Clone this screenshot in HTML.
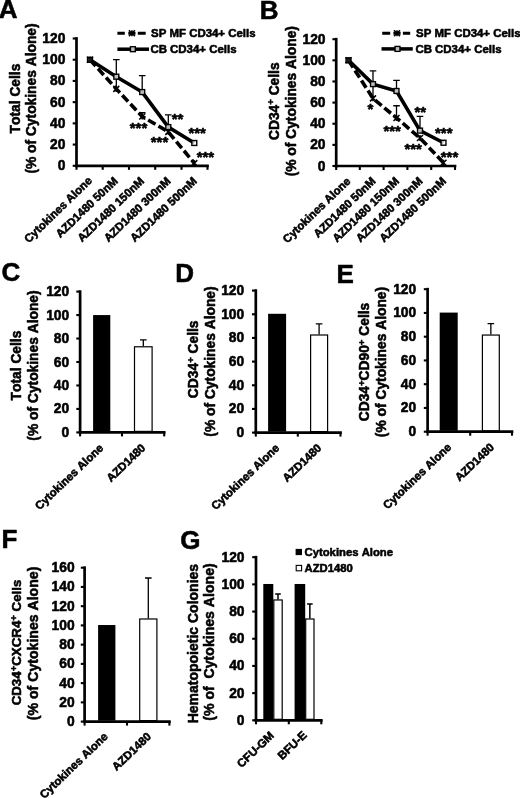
<!DOCTYPE html>
<html lang="en"><head><meta charset="utf-8"><title>Figure</title>
<style>
html,body{margin:0;padding:0;background:#fff;}
body{width:520px;height:798px;overflow:hidden;}
svg{display:block;}
svg text{font-family:"Liberation Sans", sans-serif;font-weight:bold;font-kerning:none;fill:#000;stroke:#000;stroke-width:0.55px;stroke-linejoin:round;}
</style></head><body>
<svg width="520" height="798" viewBox="0 0 520 798">
<rect width="520" height="798" fill="#fff"/>
<g font-size="26">
<text x="-1.2" y="17.8">A</text>
<text x="259.8" y="18.7">B</text>
<text x="1.5" y="281.2">C</text>
<text x="175.2" y="282.3">D</text>
<text x="336.6" y="282.5">E</text>
<text x="1.4" y="547.7">F</text>
<text x="180.2" y="548.6">G</text>
</g>
<line x1="76.5" y1="37.15" x2="76.5" y2="167.15" stroke="#000" stroke-width="2.7"/>
<line x1="75.15" y1="165.8" x2="208.85" y2="165.8" stroke="#000" stroke-width="2.7"/>
<line x1="72.7" y1="165.8" x2="76.5" y2="165.8" stroke="#000" stroke-width="2.1"/>
<text x="65.4" y="170.3" font-size="13.8" text-anchor="end">0</text>
<line x1="72.7" y1="144.58" x2="76.5" y2="144.58" stroke="#000" stroke-width="2.1"/>
<text x="65.4" y="149.08" font-size="13.8" text-anchor="end">20</text>
<line x1="72.7" y1="123.37" x2="76.5" y2="123.37" stroke="#000" stroke-width="2.1"/>
<text x="65.4" y="127.87" font-size="13.8" text-anchor="end">40</text>
<line x1="72.7" y1="102.15" x2="76.5" y2="102.15" stroke="#000" stroke-width="2.1"/>
<text x="65.4" y="106.65" font-size="13.8" text-anchor="end">60</text>
<line x1="72.7" y1="80.93" x2="76.5" y2="80.93" stroke="#000" stroke-width="2.1"/>
<text x="65.4" y="85.43" font-size="13.8" text-anchor="end">80</text>
<line x1="72.7" y1="59.72" x2="76.5" y2="59.72" stroke="#000" stroke-width="2.1"/>
<text x="65.4" y="64.22" font-size="13.8" text-anchor="end">100</text>
<line x1="72.7" y1="38.5" x2="76.5" y2="38.5" stroke="#000" stroke-width="2.1"/>
<text x="65.4" y="43.0" font-size="13.8" text-anchor="end">120</text>
<line x1="76.5" y1="165.8" x2="76.5" y2="169.8" stroke="#000" stroke-width="2.1"/>
<line x1="102.7" y1="165.8" x2="102.7" y2="169.8" stroke="#000" stroke-width="2.1"/>
<line x1="129" y1="165.8" x2="129" y2="169.8" stroke="#000" stroke-width="2.1"/>
<line x1="155.2" y1="165.8" x2="155.2" y2="169.8" stroke="#000" stroke-width="2.1"/>
<line x1="181.5" y1="165.8" x2="181.5" y2="169.8" stroke="#000" stroke-width="2.1"/>
<line x1="207.5" y1="165.8" x2="207.5" y2="169.8" stroke="#000" stroke-width="2.1"/>
<text x="19.5" y="98.5" font-size="13.8" text-anchor="middle" transform="rotate(-90 19.5 98.5)">Total Cells</text>
<text x="35.8" y="98.5" font-size="13.8" text-anchor="middle" transform="rotate(-90 35.8 98.5)">(% of Cytokines Alone)</text>
<path d="M116.3 59.72L116.3 91.54M113.0 59.72L119.6 59.72" stroke="#000" stroke-width="1.3" fill="none"/>
<path d="M142.2 75.63L142.2 92.6M138.89999999999998 75.63L145.5 75.63" stroke="#000" stroke-width="1.3" fill="none"/>
<path d="M168.3 114.88L168.3 127.61M165.0 114.88L171.60000000000002 114.88" stroke="#000" stroke-width="1.3" fill="none"/>
<path d="M142.2 112.76L142.2 117.0M138.89999999999998 112.76L145.5 112.76" stroke="#000" stroke-width="1.3" fill="none"/>
<polyline points="90,59.72 116.3,88.89 142.2,116.47 168.3,131.85 194.3,163.15" fill="none" stroke="#000" stroke-width="3.6" stroke-dasharray="8.5 3.5"/>
<polyline points="90,59.72 116.3,76.69 142.2,92.07 168.3,127.08 194.3,142.99" fill="none" stroke="#000" stroke-width="3.6"/>
<path d="M87.0 56.72L93.0 62.72M87.0 62.72L93.0 56.72M90 56.72L90 62.72" stroke="#000" stroke-width="1.5" fill="none"/>
<path d="M113.3 85.89L119.3 91.89M113.3 91.89L119.3 85.89M116.3 85.89L116.3 91.89" stroke="#000" stroke-width="1.5" fill="none"/>
<path d="M139.2 113.47L145.2 119.47M139.2 119.47L145.2 113.47M142.2 113.47L142.2 119.47" stroke="#000" stroke-width="1.5" fill="none"/>
<path d="M165.3 128.85L171.3 134.85M165.3 134.85L171.3 128.85M168.3 128.85L168.3 134.85" stroke="#000" stroke-width="1.5" fill="none"/>
<path d="M191.3 160.15L197.3 166.15M191.3 166.15L197.3 160.15M194.3 160.15L194.3 166.15" stroke="#000" stroke-width="1.5" fill="none"/>
<rect x="87.55" y="57.269999999999996" width="4.9" height="4.9" fill="#222" fill-opacity="0.75" stroke="#000" stroke-width="1.4"/>
<rect x="113.85" y="74.24" width="4.9" height="4.9" fill="#fff" fill-opacity="0.75" stroke="#000" stroke-width="1.4"/>
<rect x="139.75" y="89.61999999999999" width="4.9" height="4.9" fill="#fff" fill-opacity="0.75" stroke="#000" stroke-width="1.4"/>
<rect x="165.85000000000002" y="124.63" width="4.9" height="4.9" fill="#fff" fill-opacity="0.75" stroke="#000" stroke-width="1.4"/>
<rect x="191.85000000000002" y="140.54000000000002" width="4.9" height="4.9" fill="#fff" fill-opacity="0.75" stroke="#000" stroke-width="1.4"/>
<path d="M117.4 33.3H124.8M128.3 33.3H135.5M137.8 33.3H145.7" stroke="#000" stroke-width="3" fill="none"/>
<path d="M128.9 30.299999999999997L134.9 36.3M128.9 36.3L134.9 30.299999999999997M131.9 30.299999999999997L131.9 36.3" stroke="#000" stroke-width="1.5" fill="none"/>
<line x1="117.4" y1="49.2" x2="149" y2="49.2" stroke="#000" stroke-width="3.5"/>
<rect x="130.45000000000002" y="46.75" width="4.9" height="4.9" fill="#fff" fill-opacity="0.75" stroke="#000" stroke-width="1.4"/>
<text x="151" y="37.2" font-size="11.45" text-anchor="start">SP MF CD34+ Cells</text>
<text x="150.4" y="53.4" font-size="11.45" text-anchor="start">CB CD34+ Cells</text>
<text x="138.5" y="132.75" font-size="15" text-anchor="middle">***</text>
<text x="177.5" y="124.05" font-size="15" text-anchor="middle">**</text>
<text x="159.5" y="147.05" font-size="15" text-anchor="middle">***</text>
<text x="197.2" y="137.75" font-size="15" text-anchor="middle">***</text>
<text x="205.4" y="162.25" font-size="15" text-anchor="middle">***</text>
<text x="92.9" y="181.4" font-size="11.4" text-anchor="end" transform="rotate(-44 92.9 181.4)">Cytokines Alone</text>
<text x="118.5" y="181.9" font-size="11.4" text-anchor="end" transform="rotate(-44 118.5 181.9)">AZD1480 50nM</text>
<text x="144.79999999999998" y="181.9" font-size="11.4" text-anchor="end" transform="rotate(-44 144.79999999999998 181.9)">AZD1480 150nM</text>
<text x="171.3" y="181.9" font-size="11.4" text-anchor="end" transform="rotate(-44 171.3 181.9)">AZD1480 300nM</text>
<text x="197.60000000000002" y="181.9" font-size="11.4" text-anchor="end" transform="rotate(-44 197.60000000000002 181.9)">AZD1480 500nM</text>
<line x1="336.2" y1="37.85" x2="336.2" y2="167.35" stroke="#000" stroke-width="2.7"/>
<line x1="334.85" y1="166" x2="456.35" y2="166" stroke="#000" stroke-width="2.7"/>
<line x1="332.4" y1="166.0" x2="336.2" y2="166.0" stroke="#000" stroke-width="2.1"/>
<text x="325.5" y="170.5" font-size="13.8" text-anchor="end">0</text>
<line x1="332.4" y1="144.87" x2="336.2" y2="144.87" stroke="#000" stroke-width="2.1"/>
<text x="325.5" y="149.37" font-size="13.8" text-anchor="end">20</text>
<line x1="332.4" y1="123.73" x2="336.2" y2="123.73" stroke="#000" stroke-width="2.1"/>
<text x="325.5" y="128.23" font-size="13.8" text-anchor="end">40</text>
<line x1="332.4" y1="102.6" x2="336.2" y2="102.6" stroke="#000" stroke-width="2.1"/>
<text x="325.5" y="107.1" font-size="13.8" text-anchor="end">60</text>
<line x1="332.4" y1="81.47" x2="336.2" y2="81.47" stroke="#000" stroke-width="2.1"/>
<text x="325.5" y="85.97" font-size="13.8" text-anchor="end">80</text>
<line x1="332.4" y1="60.33" x2="336.2" y2="60.33" stroke="#000" stroke-width="2.1"/>
<text x="325.5" y="64.83" font-size="13.8" text-anchor="end">100</text>
<line x1="332.4" y1="39.2" x2="336.2" y2="39.2" stroke="#000" stroke-width="2.1"/>
<text x="325.5" y="43.7" font-size="13.8" text-anchor="end">120</text>
<line x1="336.2" y1="166" x2="336.2" y2="170" stroke="#000" stroke-width="2.1"/>
<line x1="359.8" y1="166" x2="359.8" y2="170" stroke="#000" stroke-width="2.1"/>
<line x1="383.6" y1="166" x2="383.6" y2="170" stroke="#000" stroke-width="2.1"/>
<line x1="407.4" y1="166" x2="407.4" y2="170" stroke="#000" stroke-width="2.1"/>
<line x1="431.2" y1="166" x2="431.2" y2="170" stroke="#000" stroke-width="2.1"/>
<line x1="455" y1="166" x2="455" y2="170" stroke="#000" stroke-width="2.1"/>
<text x="279" y="101.2" font-size="13.8" text-anchor="middle" transform="rotate(-90 279 101.2)">CD34<tspan font-size="9.5" dy="-4.5">+</tspan><tspan dy="4.5">&#8203;</tspan> Cells</text>
<text x="296" y="101.2" font-size="13.8" text-anchor="middle" transform="rotate(-90 296 101.2)">(% of Cytokines Alone)</text>
<path d="M373 70.9L373 95.2M369.7 70.9L376.3 70.9" stroke="#000" stroke-width="1.3" fill="none"/>
<path d="M396.5 80.41L396.5 90.98M393.2 80.41L399.8 80.41" stroke="#000" stroke-width="1.3" fill="none"/>
<path d="M420 116.34L420 131.13M416.7 116.34L423.3 116.34" stroke="#000" stroke-width="1.3" fill="none"/>
<path d="M396.5 105.77L396.5 118.45M393.2 105.77L399.8 105.77" stroke="#000" stroke-width="1.3" fill="none"/>
<polyline points="348.5,60.33 373,98.37 396.5,117.92 420,138.0 443.5,162.83" fill="none" stroke="#000" stroke-width="3.6" stroke-dasharray="8.5 3.5"/>
<polyline points="348.5,60.33 373,84.11 396.5,90.98 420,130.6 443.5,142.75" fill="none" stroke="#000" stroke-width="3.6"/>
<path d="M345.5 57.33L351.5 63.33M345.5 63.33L351.5 57.33M348.5 57.33L348.5 63.33" stroke="#000" stroke-width="1.5" fill="none"/>
<path d="M370.0 95.37L376.0 101.37M370.0 101.37L376.0 95.37M373 95.37L373 101.37" stroke="#000" stroke-width="1.5" fill="none"/>
<path d="M393.5 114.92L399.5 120.92M393.5 120.92L399.5 114.92M396.5 114.92L396.5 120.92" stroke="#000" stroke-width="1.5" fill="none"/>
<path d="M417.0 135.0L423.0 141.0M417.0 141.0L423.0 135.0M420 135.0L420 141.0" stroke="#000" stroke-width="1.5" fill="none"/>
<path d="M440.5 159.83L446.5 165.83M440.5 165.83L446.5 159.83M443.5 159.83L443.5 165.83" stroke="#000" stroke-width="1.5" fill="none"/>
<rect x="346.05" y="57.879999999999995" width="4.9" height="4.9" fill="#222" fill-opacity="0.75" stroke="#000" stroke-width="1.4"/>
<rect x="370.55" y="81.66" width="4.9" height="4.9" fill="#fff" fill-opacity="0.75" stroke="#000" stroke-width="1.4"/>
<rect x="394.05" y="88.53" width="4.9" height="4.9" fill="#fff" fill-opacity="0.75" stroke="#000" stroke-width="1.4"/>
<rect x="417.55" y="128.15" width="4.9" height="4.9" fill="#fff" fill-opacity="0.75" stroke="#000" stroke-width="1.4"/>
<rect x="441.05" y="140.3" width="4.9" height="4.9" fill="#fff" fill-opacity="0.75" stroke="#000" stroke-width="1.4"/>
<path d="M382.2 33.2H390.2M393.4 33.2H400.6M402.9 33.2H410.2" stroke="#000" stroke-width="3" fill="none"/>
<path d="M394.0 30.200000000000003L400.0 36.2M394.0 36.2L400.0 30.200000000000003M397 30.200000000000003L397 36.2" stroke="#000" stroke-width="1.5" fill="none"/>
<line x1="381.5" y1="48.9" x2="412.8" y2="48.9" stroke="#000" stroke-width="3.5"/>
<rect x="395.05" y="46.449999999999996" width="4.9" height="4.9" fill="#fff" fill-opacity="0.75" stroke="#000" stroke-width="1.4"/>
<text x="416" y="37.1" font-size="11.45" text-anchor="start">SP MF CD34+ Cells</text>
<text x="415.4" y="53.1" font-size="11.45" text-anchor="start">CB CD34+ Cells</text>
<text x="370.4" y="114.15" font-size="15" text-anchor="middle">*</text>
<text x="392.2" y="135.65" font-size="15" text-anchor="middle">***</text>
<text x="420.3" y="116.55" font-size="15" text-anchor="middle">**</text>
<text x="413.2" y="153.75" font-size="15" text-anchor="middle">***</text>
<text x="443.8" y="138.35" font-size="15" text-anchor="middle">***</text>
<text x="449.5" y="161.75" font-size="15" text-anchor="middle">***</text>
<text x="351.2" y="182" font-size="11.35" text-anchor="end" transform="rotate(-44 351.2 182)">Cytokines Alone</text>
<text x="376.3" y="182" font-size="11.4" text-anchor="end" transform="rotate(-44 376.3 182)">AZD1480 50nM</text>
<text x="399.8" y="182" font-size="11.4" text-anchor="end" transform="rotate(-44 399.8 182)">AZD1480 150nM</text>
<text x="423.3" y="182" font-size="11.4" text-anchor="end" transform="rotate(-44 423.3 182)">AZD1480 300nM</text>
<text x="446.8" y="182" font-size="11.4" text-anchor="end" transform="rotate(-44 446.8 182)">AZD1480 500nM</text>
<line x1="80.1" y1="290.25" x2="80.1" y2="433.75" stroke="#000" stroke-width="2.7"/>
<line x1="78.75" y1="432.4" x2="165.55" y2="432.4" stroke="#000" stroke-width="2.7"/>
<line x1="76.3" y1="432.4" x2="80.1" y2="432.4" stroke="#000" stroke-width="2.1"/>
<text x="69.2" y="436.9" font-size="13.8" text-anchor="end">0</text>
<line x1="76.3" y1="408.93" x2="80.1" y2="408.93" stroke="#000" stroke-width="2.1"/>
<text x="69.2" y="413.43" font-size="13.8" text-anchor="end">20</text>
<line x1="76.3" y1="385.47" x2="80.1" y2="385.47" stroke="#000" stroke-width="2.1"/>
<text x="69.2" y="389.97" font-size="13.8" text-anchor="end">40</text>
<line x1="76.3" y1="362.0" x2="80.1" y2="362.0" stroke="#000" stroke-width="2.1"/>
<text x="69.2" y="366.5" font-size="13.8" text-anchor="end">60</text>
<line x1="76.3" y1="338.53" x2="80.1" y2="338.53" stroke="#000" stroke-width="2.1"/>
<text x="69.2" y="343.03" font-size="13.8" text-anchor="end">80</text>
<line x1="76.3" y1="315.07" x2="80.1" y2="315.07" stroke="#000" stroke-width="2.1"/>
<text x="69.2" y="319.57" font-size="13.8" text-anchor="end">100</text>
<line x1="76.3" y1="291.6" x2="80.1" y2="291.6" stroke="#000" stroke-width="2.1"/>
<text x="69.2" y="296.1" font-size="13.8" text-anchor="end">120</text>
<line x1="80.1" y1="432.4" x2="80.1" y2="436.4" stroke="#000" stroke-width="2.1"/>
<line x1="122" y1="432.4" x2="122" y2="436.4" stroke="#000" stroke-width="2.1"/>
<line x1="164.2" y1="432.4" x2="164.2" y2="436.4" stroke="#000" stroke-width="2.1"/>
<text x="21" y="365.5" font-size="13.8" text-anchor="middle" transform="rotate(-90 21 365.5)">Total Cells</text>
<text x="38" y="365.5" font-size="13.8" text-anchor="middle" transform="rotate(-90 38 365.5)">(% of Cytokines Alone)</text>
<rect x="93.1" y="315.07" width="17.2" height="116.32999999999998" fill="#000"/>
<path d="M143.3 339.94L143.3 346.28M140.0 339.94L146.60000000000002 339.94" stroke="#000" stroke-width="1.3" fill="none"/>
<rect x="134.5" y="346.78" width="17.6" height="84.62" fill="#fff" stroke="#000" stroke-width="1.2"/>
<text x="104" y="448.8" font-size="11.4" text-anchor="end" transform="rotate(-43.8 104 448.8)">Cytokines Alone</text>
<text x="146.2" y="448.8" font-size="11.4" text-anchor="end" transform="rotate(-43.8 146.2 448.8)">AZD1480</text>
<line x1="255.8" y1="289.25" x2="255.8" y2="433.95" stroke="#000" stroke-width="2.7"/>
<line x1="254.45" y1="432.6" x2="341.85" y2="432.6" stroke="#000" stroke-width="2.7"/>
<line x1="252.0" y1="432.6" x2="255.8" y2="432.6" stroke="#000" stroke-width="2.1"/>
<text x="244.2" y="437.1" font-size="13.8" text-anchor="end">0</text>
<line x1="252.0" y1="408.93" x2="255.8" y2="408.93" stroke="#000" stroke-width="2.1"/>
<text x="244.2" y="413.43" font-size="13.8" text-anchor="end">20</text>
<line x1="252.0" y1="385.27" x2="255.8" y2="385.27" stroke="#000" stroke-width="2.1"/>
<text x="244.2" y="389.77" font-size="13.8" text-anchor="end">40</text>
<line x1="252.0" y1="361.6" x2="255.8" y2="361.6" stroke="#000" stroke-width="2.1"/>
<text x="244.2" y="366.1" font-size="13.8" text-anchor="end">60</text>
<line x1="252.0" y1="337.93" x2="255.8" y2="337.93" stroke="#000" stroke-width="2.1"/>
<text x="244.2" y="342.43" font-size="13.8" text-anchor="end">80</text>
<line x1="252.0" y1="314.27" x2="255.8" y2="314.27" stroke="#000" stroke-width="2.1"/>
<text x="244.2" y="318.77" font-size="13.8" text-anchor="end">100</text>
<line x1="252.0" y1="290.6" x2="255.8" y2="290.6" stroke="#000" stroke-width="2.1"/>
<text x="244.2" y="295.1" font-size="13.8" text-anchor="end">120</text>
<line x1="255.8" y1="432.6" x2="255.8" y2="436.6" stroke="#000" stroke-width="2.1"/>
<line x1="297.8" y1="432.6" x2="297.8" y2="436.6" stroke="#000" stroke-width="2.1"/>
<line x1="340.5" y1="432.6" x2="340.5" y2="436.6" stroke="#000" stroke-width="2.1"/>
<text x="198.2" y="359.3" font-size="13.8" text-anchor="middle" transform="rotate(-90 198.2 359.3)">CD34<tspan font-size="9.5" dy="-4.5">+</tspan><tspan dy="4.5">&#8203;</tspan> Cells</text>
<text x="215.2" y="361.5" font-size="13.8" text-anchor="middle" transform="rotate(-90 215.2 361.5)">(% of Cytokines Alone)</text>
<rect x="268.1" y="313.79" width="18" height="117.81" fill="#000"/>
<path d="M319.1 323.97L319.1 334.5M315.8 323.97L322.40000000000003 323.97" stroke="#000" stroke-width="1.3" fill="none"/>
<rect x="310.6" y="335.0" width="17" height="96.60000000000002" fill="#fff" stroke="#000" stroke-width="1.2"/>
<text x="280.2" y="448.8" font-size="11.4" text-anchor="end" transform="rotate(-43.8 280.2 448.8)">Cytokines Alone</text>
<text x="322.2" y="448.8" font-size="11.4" text-anchor="end" transform="rotate(-43.8 322.2 448.8)">AZD1480</text>
<line x1="427.6" y1="287.85" x2="427.6" y2="433.05" stroke="#000" stroke-width="2.7"/>
<line x1="426.25" y1="431.7" x2="513.35" y2="431.7" stroke="#000" stroke-width="2.7"/>
<line x1="423.8" y1="431.7" x2="427.6" y2="431.7" stroke="#000" stroke-width="2.1"/>
<text x="416.2" y="436.2" font-size="13.8" text-anchor="end">0</text>
<line x1="423.8" y1="407.95" x2="427.6" y2="407.95" stroke="#000" stroke-width="2.1"/>
<text x="416.2" y="412.45" font-size="13.8" text-anchor="end">20</text>
<line x1="423.8" y1="384.2" x2="427.6" y2="384.2" stroke="#000" stroke-width="2.1"/>
<text x="416.2" y="388.7" font-size="13.8" text-anchor="end">40</text>
<line x1="423.8" y1="360.45" x2="427.6" y2="360.45" stroke="#000" stroke-width="2.1"/>
<text x="416.2" y="364.95" font-size="13.8" text-anchor="end">60</text>
<line x1="423.8" y1="336.7" x2="427.6" y2="336.7" stroke="#000" stroke-width="2.1"/>
<text x="416.2" y="341.2" font-size="13.8" text-anchor="end">80</text>
<line x1="423.8" y1="312.95" x2="427.6" y2="312.95" stroke="#000" stroke-width="2.1"/>
<text x="416.2" y="317.45" font-size="13.8" text-anchor="end">100</text>
<line x1="423.8" y1="289.2" x2="427.6" y2="289.2" stroke="#000" stroke-width="2.1"/>
<text x="416.2" y="293.7" font-size="13.8" text-anchor="end">120</text>
<line x1="427.6" y1="431.7" x2="427.6" y2="435.7" stroke="#000" stroke-width="2.1"/>
<line x1="470.2" y1="431.7" x2="470.2" y2="435.7" stroke="#000" stroke-width="2.1"/>
<line x1="512" y1="431.7" x2="512" y2="435.7" stroke="#000" stroke-width="2.1"/>
<text x="369" y="362" font-size="13.8" text-anchor="middle" transform="rotate(-90 369 362)">CD34<tspan font-size="9.5" dy="-4.5">+</tspan><tspan dy="4.5">&#8203;</tspan>CD90<tspan font-size="9.5" dy="-4.5">+</tspan><tspan dy="4.5">&#8203;</tspan> Cells</text>
<text x="386" y="362" font-size="13.8" text-anchor="middle" transform="rotate(-90 386 362)">(% of Cytokines Alone)</text>
<rect x="439.7" y="312.59" width="18" height="118.11000000000001" fill="#000"/>
<path d="M490.84999999999997 323.64L490.84999999999997 334.56M487.54999999999995 323.64L494.15 323.64" stroke="#000" stroke-width="1.3" fill="none"/>
<rect x="482.4" y="335.06" width="16.9" height="95.63999999999999" fill="#fff" stroke="#000" stroke-width="1.2"/>
<text x="452" y="448.1" font-size="11.4" text-anchor="end" transform="rotate(-43.8 452 448.1)">Cytokines Alone</text>
<text x="494.8" y="448.1" font-size="11.4" text-anchor="end" transform="rotate(-43.8 494.8 448.1)">AZD1480</text>
<line x1="84.6" y1="566.35" x2="84.6" y2="722.95" stroke="#000" stroke-width="2.7"/>
<line x1="83.25" y1="721.6" x2="170.75" y2="721.6" stroke="#000" stroke-width="2.7"/>
<line x1="80.8" y1="721.6" x2="84.6" y2="721.6" stroke="#000" stroke-width="2.1"/>
<text x="74.6" y="726.1" font-size="13.8" text-anchor="end">0</text>
<line x1="80.8" y1="702.36" x2="84.6" y2="702.36" stroke="#000" stroke-width="2.1"/>
<text x="74.6" y="706.86" font-size="13.8" text-anchor="end">20</text>
<line x1="80.8" y1="683.12" x2="84.6" y2="683.12" stroke="#000" stroke-width="2.1"/>
<text x="74.6" y="687.62" font-size="13.8" text-anchor="end">40</text>
<line x1="80.8" y1="663.89" x2="84.6" y2="663.89" stroke="#000" stroke-width="2.1"/>
<text x="74.6" y="668.39" font-size="13.8" text-anchor="end">60</text>
<line x1="80.8" y1="644.65" x2="84.6" y2="644.65" stroke="#000" stroke-width="2.1"/>
<text x="74.6" y="649.15" font-size="13.8" text-anchor="end">80</text>
<line x1="80.8" y1="625.41" x2="84.6" y2="625.41" stroke="#000" stroke-width="2.1"/>
<text x="74.6" y="629.91" font-size="13.8" text-anchor="end">100</text>
<line x1="80.8" y1="606.18" x2="84.6" y2="606.18" stroke="#000" stroke-width="2.1"/>
<text x="74.6" y="610.67" font-size="13.8" text-anchor="end">120</text>
<line x1="80.8" y1="586.94" x2="84.6" y2="586.94" stroke="#000" stroke-width="2.1"/>
<text x="74.6" y="591.44" font-size="13.8" text-anchor="end">140</text>
<line x1="80.8" y1="567.7" x2="84.6" y2="567.7" stroke="#000" stroke-width="2.1"/>
<text x="74.6" y="572.2" font-size="13.8" text-anchor="end">160</text>
<line x1="84.6" y1="721.6" x2="84.6" y2="725.6" stroke="#000" stroke-width="2.1"/>
<line x1="127" y1="721.6" x2="127" y2="725.6" stroke="#000" stroke-width="2.1"/>
<line x1="169.4" y1="721.6" x2="169.4" y2="725.6" stroke="#000" stroke-width="2.1"/>
<text x="21" y="642.5" font-size="13.3" text-anchor="middle" transform="rotate(-90 21 642.5)">CD34<tspan font-size="9.5" dy="-4.5">+</tspan><tspan dy="4.5">&#8203;</tspan>CXCR4<tspan font-size="9.5" dy="-4.5">+</tspan><tspan dy="4.5">&#8203;</tspan> Cells</text>
<text x="38" y="643.4" font-size="14.1" text-anchor="middle" transform="rotate(-90 38 643.4)">(% of Cytokines Alone)</text>
<rect x="98.1" y="625.03" width="17.3" height="95.57000000000005" fill="#000"/>
<path d="M148.29999999999998 577.99L148.29999999999998 618.49M144.99999999999997 577.99L151.6 577.99" stroke="#000" stroke-width="1.3" fill="none"/>
<rect x="139.7" y="618.99" width="17.2" height="101.61000000000001" fill="#fff" stroke="#000" stroke-width="1.2"/>
<text x="108.6" y="737.4" font-size="11.4" text-anchor="end" transform="rotate(-43.8 108.6 737.4)">Cytokines Alone</text>
<text x="151.8" y="737.4" font-size="11.4" text-anchor="end" transform="rotate(-43.8 151.8 737.4)">AZD1480</text>
<line x1="256" y1="555.85" x2="256" y2="721.65" stroke="#000" stroke-width="2.7"/>
<line x1="254.65" y1="720.3" x2="322.65" y2="720.3" stroke="#000" stroke-width="2.7"/>
<line x1="252.2" y1="720.3" x2="256" y2="720.3" stroke="#000" stroke-width="2.1"/>
<text x="244.5" y="724.8" font-size="13.8" text-anchor="end">0</text>
<line x1="252.2" y1="693.12" x2="256" y2="693.12" stroke="#000" stroke-width="2.1"/>
<text x="244.5" y="697.62" font-size="13.8" text-anchor="end">20</text>
<line x1="252.2" y1="665.93" x2="256" y2="665.93" stroke="#000" stroke-width="2.1"/>
<text x="244.5" y="670.43" font-size="13.8" text-anchor="end">40</text>
<line x1="252.2" y1="638.75" x2="256" y2="638.75" stroke="#000" stroke-width="2.1"/>
<text x="244.5" y="643.25" font-size="13.8" text-anchor="end">60</text>
<line x1="252.2" y1="611.57" x2="256" y2="611.57" stroke="#000" stroke-width="2.1"/>
<text x="244.5" y="616.07" font-size="13.8" text-anchor="end">80</text>
<line x1="252.2" y1="584.38" x2="256" y2="584.38" stroke="#000" stroke-width="2.1"/>
<text x="244.5" y="588.88" font-size="13.8" text-anchor="end">100</text>
<line x1="252.2" y1="557.2" x2="256" y2="557.2" stroke="#000" stroke-width="2.1"/>
<text x="244.5" y="561.7" font-size="13.8" text-anchor="end">120</text>
<line x1="256" y1="720.3" x2="256" y2="724.3" stroke="#000" stroke-width="2.1"/>
<line x1="288.8" y1="720.3" x2="288.8" y2="724.3" stroke="#000" stroke-width="2.1"/>
<line x1="321.3" y1="720.3" x2="321.3" y2="724.3" stroke="#000" stroke-width="2.1"/>
<text x="198.3" y="643.6" font-size="14.0" text-anchor="middle" transform="rotate(-90 198.3 643.6)">Hematopoietic Colonies</text>
<text x="213.6" y="642" font-size="14.1" text-anchor="middle" transform="rotate(-90 213.6 642)" xml:space="preserve">(% of  Cytokines Alone)</text>
<rect x="263.3" y="583.98" width="10" height="135.31999999999994" fill="#000"/>
<path d="M278.0 593.9L278.0 599.47M275.2 593.9L280.8 593.9" stroke="#000" stroke-width="1.5" fill="none"/>
<rect x="273.8" y="599.97" width="8.4" height="119.32999999999993" fill="#fff" stroke="#000" stroke-width="1.2"/>
<rect x="294.6" y="583.98" width="10.6" height="135.31999999999994" fill="#000"/>
<path d="M309.84999999999997 603.96L309.84999999999997 618.5M307.04999999999995 603.96L312.65 603.96" stroke="#000" stroke-width="1.5" fill="none"/>
<rect x="305.7" y="619.0" width="8.3" height="100.29999999999995" fill="#fff" stroke="#000" stroke-width="1.2"/>
<text x="274.8" y="736.3" font-size="11.5" text-anchor="end" transform="rotate(-43.8 274.8 736.3)">CFU-GM</text>
<text x="307.6" y="736" font-size="11.5" text-anchor="end" transform="rotate(-43.8 307.6 736)">BFU-E</text>
<rect x="295.6" y="548.9" width="6.4" height="6.2" fill="#000"/>
<rect x="296.2" y="565.4" width="5.4" height="5.4" fill="#fff" stroke="#000" stroke-width="1.1"/>
<text x="304.5" y="556.2" font-size="11.3" text-anchor="start">Cytokines Alone</text>
<text x="304.5" y="572.3" font-size="11.3" text-anchor="start">AZD1480</text>
</svg>
</body></html>
